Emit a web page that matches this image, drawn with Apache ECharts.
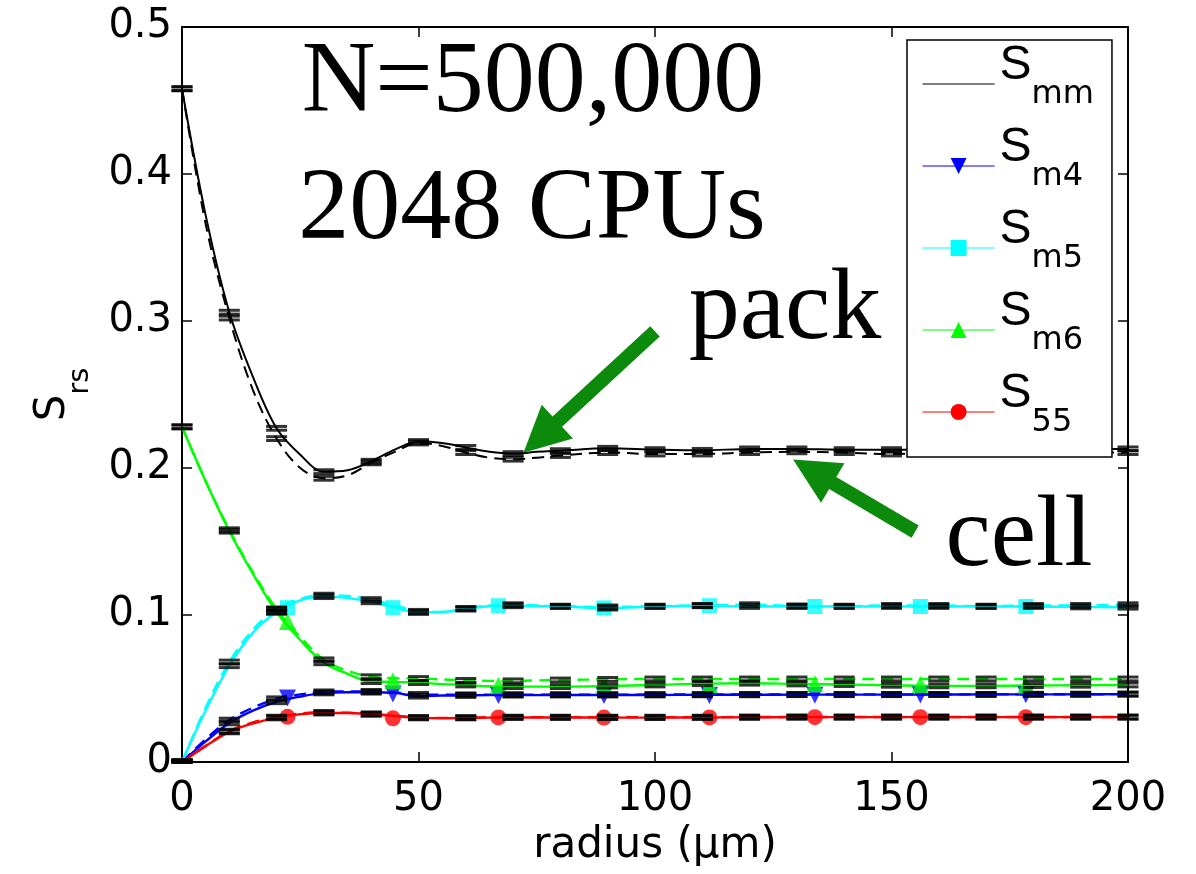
<!DOCTYPE html>
<html><head><meta charset="utf-8">
<script src="https://cdn.jsdelivr.net/npm/echarts@6/dist/echarts.min.js"></script>
<style>html,body{margin:0;padding:0;background:#fff}#c{width:1196px;height:874px}</style>
</head><body><div id="c"></div>
<script>
// ---- data ----
const radius = [0,5,10,15,20,25,30,35,40,45,50,55,60,65,70,75,80,90,100,110,120,130,140,150,160,170,180,190,200];

const smmPack = [0.458,0.372,0.306,0.262,0.227,0.209,0.1975,0.1985,0.2046,0.2125,0.218,0.217,0.214,0.211,0.2098,0.211,0.2118,0.2134,0.2125,0.212,0.213,0.213,0.2125,0.2125,0.2128,0.213,0.213,0.213,0.213];
const smmCell = [0.458,0.366,0.302,0.253,0.220,0.200,0.193,0.195,0.2035,0.211,0.217,0.215,0.2105,0.207,0.206,0.207,0.2085,0.2105,0.2095,0.2095,0.2105,0.211,0.2105,0.2095,0.2105,0.211,0.211,0.2105,0.2105];

const sm4Pack = [0,0.014,0.0266,0.035,0.041,0.0445,0.047,0.0475,0.0475,0.047,0.0448,0.0452,0.0453,0.0455,0.0455,0.0455,0.0456,0.0456,0.0456,0.0457,0.0457,0.0458,0.0458,0.0458,0.0459,0.046,0.046,0.0461,0.0462];
const sm4Cell = [0,0.0155,0.0285,0.037,0.043,0.046,0.0477,0.048,0.048,0.0473,0.046,0.0457,0.0457,0.0458,0.0458,0.0458,0.0458,0.0458,0.0459,0.0459,0.046,0.046,0.046,0.046,0.046,0.046,0.0461,0.0461,0.0462];

const sm5Pack = [0,0.035,0.0655,0.088,0.102,0.110,0.1125,0.1115,0.109,0.105,0.1017,0.102,0.104,0.106,0.1063,0.106,0.1058,0.1047,0.1058,0.1063,0.1058,0.1058,0.1058,0.1058,0.1058,0.1058,0.1058,0.1055,0.1053];
const sm5Cell = [0,0.037,0.068,0.090,0.104,0.111,0.1135,0.113,0.1105,0.1065,0.1025,0.102,0.1045,0.1065,0.107,0.1065,0.106,0.1055,0.106,0.1065,0.107,0.1062,0.106,0.1065,0.1065,0.106,0.1065,0.1065,0.107];

const sm6Pack = [0.228,0.191,0.157,0.128,0.102,0.083,0.0675,0.060,0.0547,0.0545,0.054,0.053,0.0524,0.0515,0.0513,0.0513,0.0513,0.0517,0.0524,0.0533,0.0536,0.0531,0.0527,0.0522,0.0518,0.0518,0.052,0.0522,0.0524];
const sm6Cell = [0.228,0.191,0.158,0.129,0.104,0.085,0.0695,0.062,0.058,0.057,0.0568,0.0562,0.0555,0.0552,0.0552,0.0555,0.0558,0.0562,0.0565,0.0565,0.0565,0.0565,0.0565,0.0565,0.0565,0.0565,0.0565,0.0565,0.0565];

const s55Pack = [0,0.0108,0.0205,0.0262,0.030,0.0325,0.0333,0.0333,0.0325,0.0313,0.030,0.0298,0.030,0.0302,0.0303,0.0303,0.0303,0.0302,0.0302,0.0303,0.0304,0.0305,0.0305,0.0305,0.0305,0.0305,0.0305,0.0305,0.0305];
const s55Cell = [0,0.011,0.021,0.027,0.0305,0.033,0.0337,0.0335,0.0327,0.0315,0.0303,0.030,0.0302,0.0304,0.0305,0.0305,0.0305,0.0305,0.0305,0.0305,0.0306,0.0306,0.0306,0.0306,0.0306,0.0306,0.0306,0.0306,0.0306];

// marker positions
const markerR  = [22.3,44.6,66.9,89.2,111.5,133.8,156.1,178.4];
const sm4Marks = [0.0436,0.0462,0.0452,0.0452,0.0453,0.0454,0.0455,0.0457];
const sm5Marks = [0.105,0.105,0.1063,0.1048,0.1063,0.1058,0.1058,0.1058];
const sm6Marks = [0.0955,0.0552,0.0522,0.0522,0.0527,0.0532,0.0527,0.0522];
const s55Marks = [0.0307,0.0297,0.0303,0.0302,0.0303,0.0305,0.0305,0.0305];

// error bars every 10 um, half-height
const errR = [0,10,20,30,40,50,60,70,80,90,100,110,120,130,140,150,160,170,180,190,200];
const errHalf = 0.0013;

// tick labels
const xTicks = [0,50,100,150,200];
const yTicks = [0,0.1,0.2,0.3,0.4,0.5];

const legendNames = ['Smm','Sm4','Sm5','Sm6','S55'];
const legendSubs = {Smm:'mm', Sm4:'m4', Sm5:'m5', Sm6:'m6', S55:'55'};

// annotation arrows in data units: [tail, tip]
const packArrow = [[100.0,0.2929],[72.2,0.2103]];
const cellArrow = [[155.0,0.1567],[129.2,0.2057]];

// ---- chart ----
const curves = [
  {name:'Smm', pack:smmPack, cell:smmCell, color:'#000000', symbol:'none', rot:0, marks:null, size:0, w:2},
  {name:'Sm4', pack:sm4Pack, cell:sm4Cell, color:'#0000ff', symbol:'triangle', rot:180, marks:sm4Marks, size:17, w:2.4},
  {name:'Sm5', pack:sm5Pack, cell:sm5Cell, color:'#00ffff', symbol:'rect', rot:0, marks:sm5Marks, size:15, w:2.4},
  {name:'Sm6', pack:sm6Pack, cell:sm6Cell, color:'#00ff00', symbol:'triangle', rot:0, marks:sm6Marks, size:17, w:2.4},
  {name:'S55', pack:s55Pack, cell:s55Cell, color:'#ff0000', symbol:'circle', rot:0, marks:s55Marks, size:16, w:2.4}
];
const pts = arr => radius.map((r,i)=>[r, arr[i]]);

const series = [];
curves.forEach(c => {
  series.push({
    type:'line', name:c.name + ' cell', data:pts(c.cell), smooth:0.35, showSymbol:false, symbol:'none',
    lineStyle:{color:c.color, width:c.w, type:[12,7]}, itemStyle:{color:c.color}, z:2, silent:true
  });
});
curves.forEach(c => {
  series.push({
    type:'line', name:c.name, data:pts(c.pack), smooth:0.35, showSymbol:false,
    symbol:c.symbol, symbolRotate:c.rot, symbolSize:c.size,
    lineStyle:{color:c.color, width:c.w}, itemStyle:{color:c.color}, z:3, silent:true
  });
});
curves.forEach(c => {
  if (!c.marks) return;
  series.push({
    type:'scatter', name:c.name + ' markers', data:markerR.map((r,i)=>[r, c.marks[i]]),
    symbol:c.symbol, symbolRotate:c.rot, symbolSize:c.size, itemStyle:{color:c.color}, z:4, silent:true
  });
});
const caps = [];
curves.forEach(c => {
  [c.pack, c.cell].forEach(arr => {
    errR.forEach(r => {
      const v = arr[radius.indexOf(r)];
      caps.push([r, v + errHalf]);
      caps.push([r, Math.max(0, v - errHalf)]);
    });
  });
});
series.push({type:'scatter', name:'errorbars', data:caps, symbol:'rect', symbolSize:[21,3], itemStyle:{color:'#000'}, z:5, silent:true});

const axisFont = {color:'#000', fontSize:40, fontFamily:'DejaVu Sans'};
const option = {
  animation:false,
  backgroundColor:'#fff',
  grid:{left:182, right:68, top:27, bottom:112, containLabel:false},
  xAxis:[{
    type:'value', min:xTicks[0], max:xTicks[xTicks.length-1], interval:xTicks[1]-xTicks[0],
    axisLine:{show:true, onZero:false, lineStyle:{color:'#000', width:2}},
    axisTick:{show:true, inside:true, length:10, lineStyle:{color:'#000', width:1.5}},
    axisLabel:Object.assign({margin:18}, axisFont),
    splitLine:{show:false},
    name:'radius (μm)', nameLocation:'middle', nameGap:57,
    nameTextStyle:{color:'#000', fontSize:42, fontFamily:'DejaVu Sans'}
  },{
    type:'value', position:'top', min:xTicks[0], max:xTicks[xTicks.length-1], interval:xTicks[1]-xTicks[0],
    axisLine:{show:true, onZero:false, lineStyle:{color:'#000', width:2}},
    axisTick:{show:true, inside:true, length:10, lineStyle:{color:'#000', width:1.5}},
    axisLabel:{show:false}, splitLine:{show:false}
  }],
  yAxis:[{
    type:'value', min:yTicks[0], max:yTicks[yTicks.length-1], interval:0.1,
    axisLine:{show:true, onZero:false, lineStyle:{color:'#000', width:2}},
    axisTick:{show:true, inside:true, length:10, lineStyle:{color:'#000', width:1.5}},
    axisLabel:Object.assign({margin:10}, axisFont),
    splitLine:{show:false},
    name:'{s|S}{sub|rs}', nameLocation:'middle', nameRotate:90, nameGap:80,
    nameTextStyle:{color:'#000', rich:{
      s:{fontSize:42, fontFamily:'DejaVu Sans', color:'#000', lineHeight:80, padding:[0,0,18,0]},
      sub:{fontSize:29, fontFamily:'DejaVu Sans', color:'#000', lineHeight:80, padding:[37,0,0,0]}
    }}
  },{
    type:'value', position:'right', min:yTicks[0], max:yTicks[yTicks.length-1], interval:0.1,
    axisLine:{show:true, onZero:false, lineStyle:{color:'#000', width:2}},
    axisTick:{show:true, inside:true, length:10, lineStyle:{color:'#000', width:1.5}},
    axisLabel:{show:false}, splitLine:{show:false}
  }],
  legend:{
    orient:'vertical', left:907, top:40,
    padding:[1.5,18,2.5,15], itemGap:-3, itemWidth:72, itemHeight:20,
    backgroundColor:'#fff', borderColor:'#000', borderWidth:1.5, borderRadius:0,
    selectedMode:false, z:10,
    lineStyle:{width:1.2},
    textStyle:{color:'#000', rich:{
      s:{fontSize:48, fontFamily:'Liberation Sans', color:'#000', lineHeight:85, padding:[0,0,37,0]},
      sub:{fontSize:32, fontFamily:'DejaVu Sans', color:'#000', lineHeight:85, padding:[20.4,0,0,0]}
    }},
    formatter: name => '{s|S}{sub|' + legendSubs[name] + '}',
    data: legendNames.map(n => n === 'Smm'
      ? {name:n, itemStyle:{color:'rgba(0,0,0,0)', borderWidth:0, borderColor:'rgba(0,0,0,0)'}}
      : {name:n})
  },
  series:series
};

const chart = echarts.init(document.getElementById('c'), null, {renderer:'canvas'});
chart.setOption(option);

function arrowPolygon(tailD, tipD, shaftW, headW, headL) {
  const tail = chart.convertToPixel({gridIndex:0}, tailD);
  const tip = chart.convertToPixel({gridIndex:0}, tipD);
  const dx = tip[0]-tail[0], dy = tip[1]-tail[1];
  const len = Math.hypot(dx, dy);
  const ux = dx/len, uy = dy/len, nx = -uy, ny = ux;
  const bx = tip[0]-ux*headL, by = tip[1]-uy*headL;
  const s = shaftW/2, h = headW/2;
  return [
    [tail[0]+nx*s, tail[1]+ny*s], [bx+nx*s, by+ny*s], [bx+nx*h, by+ny*h], tip,
    [bx-nx*h, by-ny*h], [bx-nx*s, by-ny*s], [tail[0]-nx*s, tail[1]-ny*s]
  ];
}
const arrowColor = '#0b8a0b';
const serif = '102px "Liberation Serif"';
chart.setOption({
  graphic:[
    {type:'polygon', id:'a1', z:20, shape:{points:arrowPolygon(packArrow[0], packArrow[1], 14, 46, 46)}, style:{fill:arrowColor}},
    {type:'polygon', id:'a2', z:20, shape:{points:arrowPolygon(cellArrow[0], cellArrow[1], 14, 46, 46)}, style:{fill:arrowColor}},
    {type:'text', id:'t1', z:20, x:533, y:84, style:{text:'N=500,000', font:serif, fill:'#000', textAlign:'center', textVerticalAlign:'middle'}},
    {type:'text', id:'t2', z:20, x:532, y:211, style:{text:'2048 CPUs', font:serif, fill:'#000', textAlign:'center', textVerticalAlign:'middle'}},
    {type:'text', id:'t3', z:20, x:785, y:311, style:{text:'pack', font:serif, fill:'#000', textAlign:'center', textVerticalAlign:'middle'}},
    {type:'text', id:'t4', z:20, x:1019, y:538, style:{text:'cell', font:serif, fill:'#000', textAlign:'center', textVerticalAlign:'middle'}}
  ]
});
</script>
</body></html>
